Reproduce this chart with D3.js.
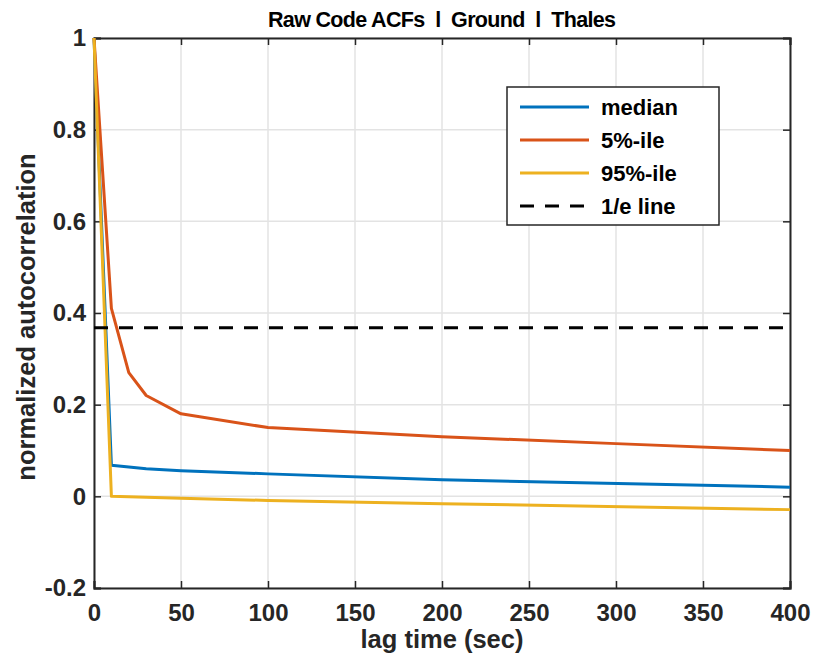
<!DOCTYPE html>
<html lang="en">
<head>
<meta charset="utf-8" />
<title>Raw Code ACFs</title>
<script src="https://d3js.org/d3.v7.min.js"></script>
<style>
body { margin: 0; background: #fff; }
svg { display: block; font-family: 'Liberation Sans', Arial, sans-serif; font-weight: bold; }
.tick text { font-size: 24px; fill: #262626; }
</style>
</head>
<body>
<svg width="817" height="659"></svg>
<script>
// data
var medLag = [0, 10, 30, 50, 100, 200, 400];
var medVal = [1, 0.068, 0.060, 0.056, 0.049, 0.036, 0.020];
var p5Lag = [0, 10, 20, 30, 50, 100, 200, 300, 400];
var p5Val = [1, 0.41, 0.27, 0.22, 0.18, 0.15, 0.13, 0.115, 0.10];
var p95Lag = [0, 10, 50, 100, 200, 400];
var p95Val = [1, 0.0, -0.004, -0.009, -0.016, -0.029];
var eLine = 1 / Math.E;
var xTicks = [0, 50, 100, 150, 200, 250, 300, 350, 400];
var yTicks = [-0.2, 0, 0.2, 0.4, 0.6, 0.8, 1];
var names = ['median', '5%-ile', '95%-ile', '1/e line'];
var colors = ['#0072BD', '#D95319', '#EDB120', '#000000'];

var svg = d3.select('svg');
var pLeft = 94, pRight = 790, pTop = 38, pBottom = 588;

var x = d3.scaleLinear().domain([0, 400]).range([pLeft, pRight]);
var y = d3.scaleLinear().domain([-0.2, 1]).range([pBottom, pTop]);

// grid
svg.append('g')
  .selectAll('line').data(xTicks).enter().append('line')
  .attr('x1', d => x(d)).attr('x2', d => x(d))
  .attr('y1', pTop).attr('y2', pBottom)
  .attr('stroke', '#e3e3e3').attr('stroke-width', 1.5);
svg.append('g')
  .selectAll('line').data(yTicks).enter().append('line')
  .attr('y1', d => y(d)).attr('y2', d => y(d))
  .attr('x1', pLeft).attr('x2', pRight)
  .attr('stroke', '#e3e3e3').attr('stroke-width', 1.5);

// axes
var xAxis = svg.append('g')
  .attr('transform', `translate(0, ${pBottom})`)
  .call(d3.axisBottom(x).tickValues(xTicks).tickSize(-7).tickFormat(d3.format('d')));
var yAxis = svg.append('g')
  .attr('transform', `translate(${pLeft}, 0)`)
  .call(d3.axisLeft(y).tickValues(yTicks).tickSize(-7).tickPadding(8).tickFormat(d => String(+d.toFixed(1))));
svg.append('g')
  .attr('transform', `translate(0, ${pTop})`)
  .call(d3.axisTop(x).tickValues(xTicks).tickSize(-7).tickFormat(''));
svg.append('g')
  .attr('transform', `translate(${pRight}, 0)`)
  .call(d3.axisRight(y).tickValues(yTicks).tickSize(-7).tickFormat(''));
svg.selectAll('.domain').attr('stroke', '#262626').attr('stroke-width', 2);
svg.selectAll('.tick line').attr('stroke', '#262626').attr('stroke-width', 1.5);
xAxis.selectAll('text').attr('y', 33).attr('dy', null);

// lines
var line = d3.line().x(d => x(d[0])).y(d => y(d[1]));
var series = [
  d3.zip(medLag, medVal),
  d3.zip(p5Lag, p5Val),
  d3.zip(p95Lag, p95Val)
];
svg.append('g').selectAll('path').data(series).enter().append('path')
  .attr('d', line)
  .attr('fill', 'none')
  .attr('stroke', (d, i) => colors[i])
  .attr('stroke-width', 3)
  .attr('stroke-linejoin', 'round');

svg.append('line')
  .attr('x1', x(0)).attr('x2', x(400))
  .attr('y1', y(eLine)).attr('y2', y(eLine))
  .attr('stroke', '#000').attr('stroke-width', 3)
  .attr('stroke-dasharray', '14,11');

// legend
var lg = svg.append('g').attr('transform', 'translate(507, 87)');
lg.append('rect').attr('width', 212).attr('height', 138)
  .attr('fill', '#fff').attr('stroke', '#262626').attr('stroke-width', 1.5);
var item = lg.selectAll('g.item').data(names).enter().append('g')
  .attr('transform', (d, i) => `translate(0, ${20 + i * 33})`);
item.append('line')
  .attr('x1', 13).attr('x2', 82)
  .attr('stroke', (d, i) => colors[i]).attr('stroke-width', 3)
  .attr('stroke-dasharray', (d, i) => i === 3 ? '14,11' : null);
item.append('text')
  .attr('x', 94).attr('dy', '0.36em')
  .style('font-size', '22px').attr('fill', '#000')
  .text(d => d);

// title and labels
svg.append('text')
  .attr('x', 442).attr('y', 27)
  .attr('text-anchor', 'middle').style('font-size', '21.5px')
  .style('white-space', 'pre')
  .attr('textLength', 348).attr('lengthAdjust', 'spacing')
  .text('Raw Code ACFs  l  Ground  l  Thales');
svg.append('text')
  .attr('x', 442).attr('y', 648)
  .attr('text-anchor', 'middle').style('font-size', '25.5px').attr('fill', '#262626')
  .text('lag time (sec)');
svg.append('text')
  .attr('transform', 'translate(35, 317) rotate(-90)')
  .attr('text-anchor', 'middle').style('font-size', '25.5px').attr('fill', '#262626')
  .text('normalized autocorrelation');
</script>
</body>
</html>
